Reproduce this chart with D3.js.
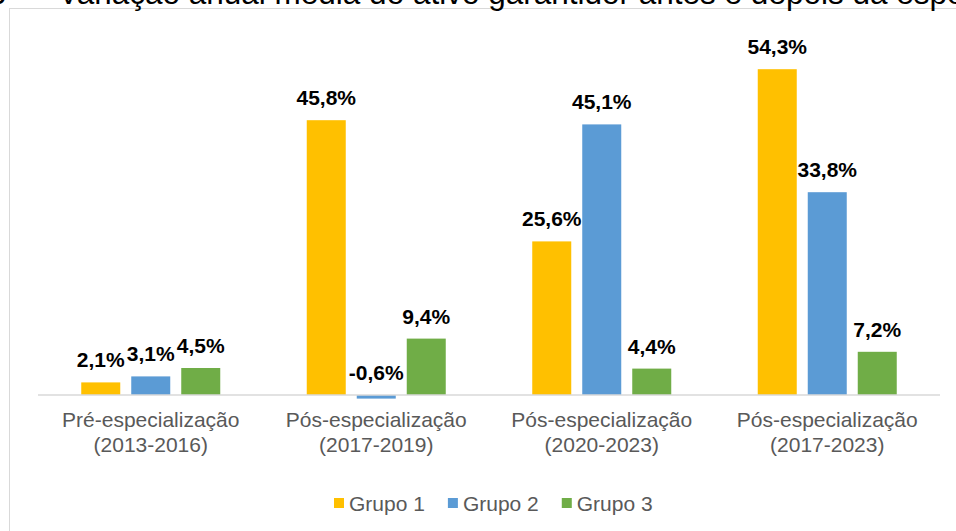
<!DOCTYPE html>
<html>
<head>
<meta charset="utf-8">
<script src="https://cdnjs.cloudflare.com/ajax/libs/d3/7.8.5/d3.min.js"></script>
<style>
    body { margin: 0; background: #fff; }
    svg { display: block; font-family: Arial, "Liberation Sans", sans-serif; }
</style>
</head>
<body>
<svg id="chart" width="956" height="531"></svg>
<script>
// data
var categories = [
    ["Pré-especialização", "(2013-2016)"],
    ["Pós-especialização", "(2017-2019)"],
    ["Pós-especialização", "(2020-2023)"],
    ["Pós-especialização", "(2017-2023)"]
];
var groups = ["Grupo 1", "Grupo 2", "Grupo 3"];
var grupo1 = [2.1, 45.8, 25.6, 54.3];
var grupo2 = [3.1, -0.6, 45.1, 33.8];
var grupo3 = [4.5, 9.4, 4.4, 7.2];
var colors = ["#FFC000", "#5B9BD5", "#70AD47"];

var series = [grupo1, grupo2, grupo3];

var svg = d3.select("#chart");

// chart frame (runs off the right and bottom of the picture)
svg.append("rect")
    .attr("x", 9.5).attr("y", 8.5)
    .attr("width", 1000).attr("height", 600)
    .attr("fill", "#fff")
    .attr("stroke", "#d9d9d9")
    .attr("stroke-width", 1);

// title, cut off at the top edge as in the source
svg.append("text")
    .attr("x", 6).attr("y", 4)
    .attr("text-anchor", "end")
    .attr("font-size", "31.5px")
    .attr("fill", "#000")
    .text("3");
svg.append("text")
    .attr("x", 58).attr("y", 4)
    .attr("font-size", "31.5px")
    .attr("fill", "#000")
    .text("Variação anual média do ativo garantidor antes e depois da especialização");

var x0 = d3.scaleBand()
    .domain(d3.range(categories.length))
    .range([38, 940])
    .padding(0);

var x1 = d3.scaleBand()
    .domain(d3.range(groups.length))
    .range([0, x0.bandwidth()])
    .paddingInner(0.22)
    .paddingOuter(0.865);

var y = d3.scaleLinear()
    .domain([0, 60])
    .range([395, 35]);

var rows = [];
categories.forEach(function (c, i) {
    series.forEach(function (s, j) {
        rows.push({ cat: i, grp: j, value: s[i] });
    });
});

var bars = svg.append("g");
bars.selectAll("rect")
    .data(rows)
    .enter()
    .append("rect")
    .attr("x", d => x0(d.cat) + x1(d.grp))
    .attr("width", x1.bandwidth())
    .attr("y", d => Math.min(y(d.value), y(0)))
    .attr("height", d => Math.abs(y(d.value) - y(0)))
    .attr("fill", d => colors[d.grp]);

// zero line
svg.append("line")
    .attr("x1", 38).attr("x2", 940)
    .attr("y1", y(0)).attr("y2", y(0))
    .attr("stroke", "#d9d9d9")
    .attr("stroke-width", 1.5);

// value labels
svg.append("g").selectAll("text")
    .data(rows)
    .enter()
    .append("text")
    .attr("x", d => x0(d.cat) + x1(d.grp) + x1.bandwidth() / 2)
    .attr("y", d => Math.min(y(d.value), y(0)) - 15)
    .attr("text-anchor", "middle")
    .attr("font-size", "21px")
    .attr("font-weight", "bold")
    .attr("fill", "#000")
    .text(d => d.value.toFixed(1).replace(".", ",") + "%");

// category labels
var catLabels = svg.append("g").selectAll("text")
    .data(categories)
    .enter()
    .append("text")
    .attr("x", (d, i) => x0(i) + x0.bandwidth() / 2)
    .attr("y", 426.5)
    .attr("text-anchor", "middle")
    .attr("font-size", "21px")
    .attr("fill", "#595959");
catLabels.selectAll("tspan")
    .data(d => d)
    .enter()
    .append("tspan")
    .attr("x", function () { return d3.select(this.parentNode).attr("x"); })
    .attr("dy", (d, k) => k === 0 ? 0 : 25)
    .text(d => d);

// legend
var legend = svg.append("g");
var lx = 334;
groups.forEach(function (g, j) {
    legend.append("rect")
        .attr("x", lx).attr("y", 498)
        .attr("width", 10).attr("height", 10)
        .attr("fill", colors[j]);
    var t = legend.append("text")
        .attr("x", lx + 15).attr("y", 511)
        .attr("font-size", "21px")
        .attr("fill", "#595959")
        .text(g);
    lx += 15 + t.node().getComputedTextLength() + 23;
});
</script>
</body>
</html>
